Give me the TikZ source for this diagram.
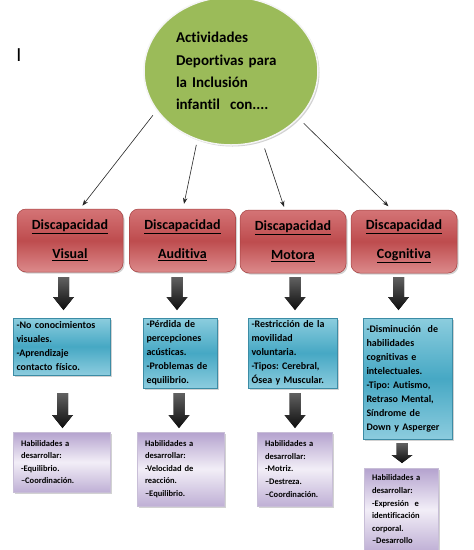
\documentclass[tikz,border=0pt]{standalone}
\usepackage{fontspec}
\setmainfont{Carlito}[Ligatures=NoCommon]
\usetikzlibrary{shapes.geometric,shadows,arrows.meta}
\definecolor{egreen}{RGB}{155,187,89}
\definecolor{rtop}{RGB}{212,116,118}
\definecolor{rmid}{RGB}{190,76,78}
\definecolor{rbot}{RGB}{220,138,139}
\definecolor{redge}{RGB}{165,65,65}
\definecolor{ctop}{RGB}{140,205,222}
\definecolor{cmid}{RGB}{70,168,196}
\definecolor{cbot}{RGB}{140,204,222}
\definecolor{cedge}{RGB}{60,140,165}
\definecolor{pedge}{RGB}{180,162,206}
\definecolor{pmid}{RGB}{242,238,247}
\definecolor{pline}{RGB}{200,190,215}
\newcommand{\blkarrow}[4]{%
  \fill[top color=black!62, bottom color=black!95]
    (#1-5.5,#2) -- (#1+5.5,#2) -- (#1+5.5,#3) -- (#1+10.5,#3) -- (#1,#4)
    -- (#1-10.5,#3) -- (#1-5.5,#3) -- cycle;}
\tikzset{
  shad/.style={drop shadow={shadow xshift=1.5pt,shadow yshift=-1.5pt,opacity=0.35}},
  mainell/.style={ellipse, fill=egreen, draw=white!92!gray, line width=1.5pt, shad,
    minimum width=174pt, minimum height=148pt, inner sep=0pt,
    text width=110pt, align=left, font=\fontsize{15}{22.3}\selectfont\bfseries\frenchspacing},
  redbox/.style={rounded corners=9pt, draw=redge, line width=0.5pt,
    top color=rtop, bottom color=rbot, middle color=rmid, shad,
    minimum width=106pt, minimum height=63pt, inner sep=0pt, align=center,
    font=\fontsize{14}{29}\selectfont\bfseries},
  cyanbox/.style={draw=cedge, line width=0.5pt,
    top color=ctop, bottom color=cbot, middle color=cmid, shad,
    inner xsep=3.5pt, inner ysep=0pt, align=left,
    font=\fontsize{10}{14}\selectfont\bfseries\frenchspacing},
  purbox/.style={draw=pline, line width=0.5pt,
    top color=pedge, bottom color=pedge!85, middle color=pmid, shad,
    inner xsep=8pt, inner ysep=0pt, align=left,
    font=\fontsize{8.5}{12.6}\selectfont\bfseries\frenchspacing},
  conn/.style={draw=black!85, line width=0.6pt, -{Stealth[length=6pt,width=4.5pt]}}
}
\begin{document}
\begin{tikzpicture}[x=1pt,y=-1pt]
\useasboundingbox (0,0) rectangle (474,550);
\fill[white] (0,0) rectangle (474,550);

\node[font=\fontsize{20}{20}\selectfont] (mark) at (19,55) {I};

\node[mainell] (e) at (231,71) {Actividades\\Deportivas para\\la Inclusión\\infantil\ \ con....};

\node[redbox] (v) at (70,240.5) {\underline{Discapacidad}\\\underline{Visual}};
\node[redbox] (a) at (182.5,240.5) {\underline{Discapacidad}\\\underline{Auditiva}};
\node[redbox] (m) at (293,241.5) {\underline{Discapacidad}\\\underline{Motora}};
\node[redbox] (c) at (404,241.5) {\underline{Discapacidad}\\\underline{Cognitiva}};

\draw[conn, shorten <=6pt, shorten >=4pt] (e.208.5) -- ([xshift=10pt]v.north);
\draw[conn, shorten <=5pt, shorten >=5pt] (e.244.7) -- ([xshift=0.5pt]a.north);
\draw[conn, shorten <=8pt, shorten >=3pt] (e.294.4) -- ([xshift=-8pt]m.north);
\draw[conn, shorten <=7pt, shorten >=5pt] (e.325.1) -- ([xshift=-12pt]c.north);

\blkarrow{63.5}{277}{297}{310}
\blkarrow{177}{277}{297}{310}
\blkarrow{295}{277}{297}{310}
\blkarrow{398.5}{277}{297}{310}

\node[cyanbox, minimum width=97pt, minimum height=57pt, text width=90pt] (c1) at (61.5,346.5)
  {-No conocimientos\\visuales.\\-Aprendizaje\\contacto físico.};
\node[cyanbox, minimum width=74pt, minimum height=70pt, text width=67pt] (c2) at (180,353)
  {-Pérdida de\\percepciones\\acústicas.\\-Problemas de\\equilibrio.};
\node[cyanbox, minimum width=89pt, minimum height=70pt, text width=82pt] (c3) at (292.5,353)
  {-Restricción de la\\movilidad\\voluntaria.\\-Tipos: Cerebral,\\Ósea y Muscular.};
\node[cyanbox, minimum width=89pt, minimum height=121pt, text width=82pt] (c4) at (407.5,378.5)
  {-Disminución\ \ de\\habilidades\\cognitivas e\\intelectuales.\\-Tipo: Autismo,\\Retraso Mental,\\Síndrome de\\Down y Asperger};

\blkarrow{62.5}{393}{415}{428}
\blkarrow{179}{393}{415}{428}
\blkarrow{295}{393}{415}{428}
\blkarrow{402}{443}{455}{463}

\node[purbox, minimum width=97pt, minimum height=60pt, text width=81pt] (p1) at (61.5,462)
  {Habilidades a\\desarrollar:\\-Equilibrio.\\–Coordinación.};
\node[purbox, minimum width=87pt, minimum height=74pt, text width=71pt] (p2) at (180.5,469)
  {Habilidades a\\desarrollar:\\-Velocidad de\\reacción.\\–Equilibrio.};
\node[purbox, minimum width=75pt, minimum height=74pt, text width=59pt] (p3) at (294.5,469)
  {Habilidades a\\desarrollar:\\-Motriz.\\–Destreza.\\–Coordinación.};
\node[purbox, minimum width=74pt, minimum height=83pt, text width=58pt] (p4) at (401,509.5)
  {Habilidades a\\desarrollar:\\-Expresión\ \ e\\identificación\\corporal.\\–Desarrollo};
\end{tikzpicture}
\end{document}
